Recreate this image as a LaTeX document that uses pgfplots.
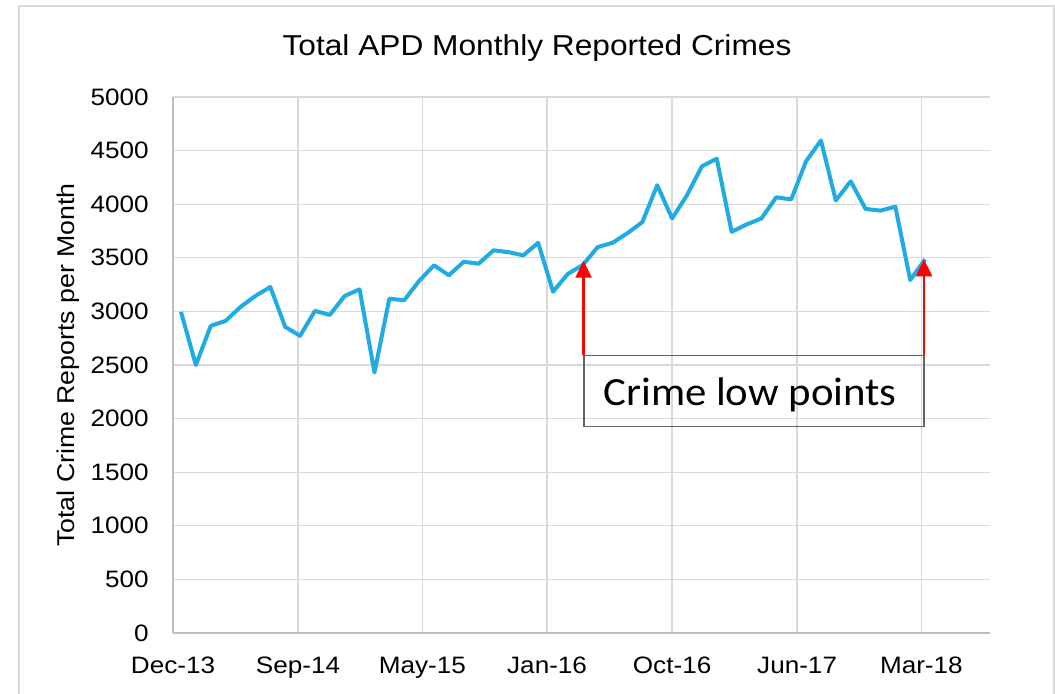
\documentclass[border=0pt]{standalone}
\usepackage{pgfplots}
\pgfplotsset{compat=1.18}
\usepackage{fontspec}
\setmainfont[FakeStretch=1.1]{Liberation Sans}
\newfontfamily\calib[FakeStretch=1.07]{Carlito}
\usetikzlibrary{arrows.meta}
\definecolor{linec}{RGB}{32,171,226}
\definecolor{gridc}{RGB}{217,217,217}
\definecolor{axisc}{RGB}{191,191,191}
\definecolor{boxc}{RGB}{100,100,100}

\pgfplotstableread{
k v
0 2995
1 2500
2 2865
3 2912
4 3042
5 3144
6 3228
7 2856
8 2772
9 3005
10 2967
11 3144
12 3206
13 2430
14 3119
15 3104
16 3284
17 3430
18 3337
19 3463
20 3445
21 3570
22 3553
23 3523
24 3640
25 3184
26 3351
27 3433
28 3600
29 3640
30 3730
31 3833
32 4177
33 3867
34 4084
35 4353
36 4425
37 3742
38 3811
39 3867
40 4065
41 4044
42 4400
43 4595
44 4035
45 4214
46 3956
47 3940
48 3977
49 3293
50 3486
}\crimes

\begin{document}
\begin{tikzpicture}
\useasboundingbox (0,0) rectangle (791.25pt,519.75pt);
\draw[gridc, line width=1.5pt] (13.875pt,-5pt) -- (13.875pt,515.25pt) -- (790.5pt,515.25pt) -- (790.5pt,-5pt);
\begin{axis}[
  at={(129.75pt,45pt)}, anchor=south west,
  scale only axis, width=612.4pt, height=402pt,
  xmin=-0.5376, xmax=54.33, ymin=0, ymax=5000,
  xtick={-0.5376,7.863,16.22,24.6,33.0,41.4,49.75},
  xticklabels={Dec-13,Sep-14,May-15,Jan-16,Oct-16,Jun-17,Mar-18},
  ytick={0,500,...,5000},
  axis x line=bottom, axis y line=left,
  axis line style={axisc, line width=1pt, -},
  grid=major, grid style={gridc, line width=1pt},
  major tick length=0pt,
  tick label style={font=\fontsize{17.8}{20}\selectfont, text=black},
  /pgf/number format/assume math mode=true,
  /pgf/number format/1000 sep={},
  scaled y ticks=false,
  yticklabel style={anchor=east, inner sep=0pt, xshift=-18pt},
  xticklabel style={anchor=base, inner sep=0pt, yshift=-30pt},
]
\addplot[linec, line width=3pt, line join=round, mark=none] table[x=k, y=v] {\crimes};
\draw[boxc, line width=0.9pt] (axis cs:27.08,2587) rectangle (axis cs:49.93,1925);
\node[font=\calib\fontsize{30}{36}\selectfont, anchor=base, inner sep=0pt] at (axis cs:38.24,2118) {Crime low points};
\draw[red, line width=1.7pt, -{Triangle[width=12pt,length=12.75pt]}] (axis cs:27.05,2590) -- (axis cs:27.05,3473);
\draw[red, line width=1.7pt, -{Triangle[width=12pt,length=12.75pt]}] (axis cs:49.93,2590) -- (axis cs:49.93,3486);
\end{axis}
\node[font=\fontsize{21.6}{24}\selectfont, anchor=base, inner sep=0pt] at (402.75pt,477.75pt) {Total APD Monthly Reported Crimes};
\node[font=\fontsize{18.2}{20}\selectfont, rotate=90, anchor=base, inner sep=0pt] at (55.5pt,246pt) {Total Crime Reports per Month};
\end{tikzpicture}
\end{document}
